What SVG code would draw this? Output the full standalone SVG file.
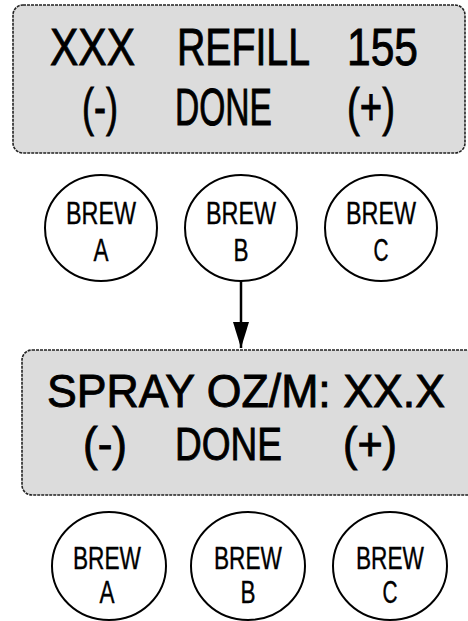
<svg xmlns="http://www.w3.org/2000/svg" width="468" height="621" viewBox="0 0 468 621">
<style>
.panel{fill:#dcdcdc;stroke:#222;stroke-width:1.6;stroke-dasharray:3 1}
.big{font-family:"Liberation Sans",Arial,sans-serif;font-size:52px;fill:#000;stroke:#000;stroke-width:0.9}
.big2{font-family:"Liberation Sans",Arial,sans-serif;font-size:46px;fill:#000;stroke:#000;stroke-width:0.9}
.btn{fill:#fff;stroke:#000;stroke-width:2}
.lbl{font-family:"Liberation Sans",Arial,sans-serif;font-size:32px;fill:#000;stroke:#000;stroke-width:0.4;text-anchor:middle}
.conn{stroke:#000;stroke-width:2.5;fill:none}
</style>
<defs>
<marker id="arr" viewBox="0 0 26 16" refX="26" refY="8" markerWidth="26" markerHeight="16" markerUnits="userSpaceOnUse" orient="auto">
<path d="M0,0 L26,8 L0,16 Z" fill="#000"/>
</marker>
</defs>
<rect width="468" height="621" fill="#fff"/>
<g id="display1">
<rect class="panel" x="13" y="5" width="452" height="148" rx="10"/>
<text class="big" x="50" y="65" textLength="85" lengthAdjust="spacingAndGlyphs">XXX</text>
<text class="big" x="177" y="65" textLength="133" lengthAdjust="spacingAndGlyphs">REFILL</text>
<text class="big" x="347" y="65" textLength="71" lengthAdjust="spacingAndGlyphs">155</text>
<text class="big" x="82" y="125" textLength="36" lengthAdjust="spacingAndGlyphs">(-)</text>
<text class="big" x="175" y="125" textLength="97" lengthAdjust="spacingAndGlyphs">DONE</text>
<text class="big" x="347" y="125" textLength="48" lengthAdjust="spacingAndGlyphs">(+)</text>
</g>
<g id="brewA1">
<ellipse class="btn" cx="101" cy="228" rx="56" ry="53"/>
<text class="lbl" x="101" y="224" textLength="70" lengthAdjust="spacingAndGlyphs">BREW</text>
<text class="lbl" x="101" y="261" textLength="15" lengthAdjust="spacingAndGlyphs">A</text>
</g>
<g id="brewB1">
<ellipse class="btn" cx="241" cy="228" rx="56" ry="53"/>
<text class="lbl" x="241" y="224" textLength="70" lengthAdjust="spacingAndGlyphs">BREW</text>
<text class="lbl" x="241" y="261" textLength="15" lengthAdjust="spacingAndGlyphs">B</text>
</g>
<g id="brewC1">
<ellipse class="btn" cx="381" cy="228" rx="56" ry="53"/>
<text class="lbl" x="381" y="224" textLength="70" lengthAdjust="spacingAndGlyphs">BREW</text>
<text class="lbl" x="381" y="261" textLength="15" lengthAdjust="spacingAndGlyphs">C</text>
</g>
<g id="display2">
<rect class="panel" x="22" y="350" width="460" height="145" rx="10"/>
<text class="big2" x="47" y="407" textLength="398" lengthAdjust="spacingAndGlyphs">SPRAY OZ/M: XX.X</text>
<text class="big2" x="83" y="460" textLength="44" lengthAdjust="spacingAndGlyphs">(-)</text>
<text class="big2" x="175" y="460" textLength="107" lengthAdjust="spacingAndGlyphs">DONE</text>
<text class="big2" x="343" y="460" textLength="54" lengthAdjust="spacingAndGlyphs">(+)</text>
</g>
<g id="brewA2">
<ellipse class="btn" cx="109" cy="566" rx="57" ry="54"/>
<text class="lbl" x="107" y="569" textLength="68" lengthAdjust="spacingAndGlyphs">BREW</text>
<text class="lbl" x="107" y="603" textLength="15" lengthAdjust="spacingAndGlyphs">A</text>
</g>
<g id="brewB2">
<ellipse class="btn" cx="248" cy="566" rx="57" ry="54"/>
<text class="lbl" x="248" y="569" textLength="68" lengthAdjust="spacingAndGlyphs">BREW</text>
<text class="lbl" x="248" y="603" textLength="15" lengthAdjust="spacingAndGlyphs">B</text>
</g>
<g id="brewC2">
<ellipse class="btn" cx="390" cy="566" rx="57" ry="54"/>
<text class="lbl" x="390" y="569" textLength="68" lengthAdjust="spacingAndGlyphs">BREW</text>
<text class="lbl" x="390" y="603" textLength="15" lengthAdjust="spacingAndGlyphs">C</text>
</g>
<g id="connectors">
<line class="conn" x1="241" y1="281" x2="241" y2="348" marker-end="url(#arr)"/>
</g>
</svg>
